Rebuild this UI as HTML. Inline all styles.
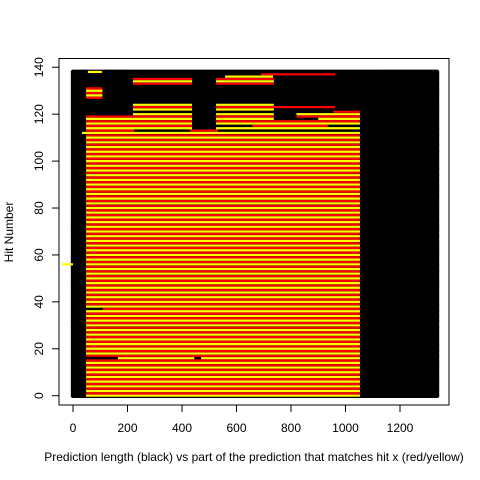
<!DOCTYPE html>
<html><head><meta charset="utf-8"><style>
html,body{margin:0;padding:0;background:#fff;}
svg{display:block;font-family:"Liberation Sans",sans-serif;}
</style></head><body>
<svg id="chart" width="480" height="480" viewBox="0 0 480 480">
<rect x="0" y="0" width="480" height="480" fill="#fff"/>
<g id="black"></g>
<g id="match"></g>
<rect x="59" y="58.5" width="390" height="346.5" fill="none" stroke="#000" stroke-width="1"/>
<g id="axes"></g>
<text x="254" y="461" text-anchor="middle" font-size="12">Prediction length (black) vs part of the prediction that matches hit x (red/yellow)</text>
<text x="0" y="0" transform="translate(13,232) rotate(-90)" text-anchor="middle" font-size="12">Hit Number</text>
</svg>
<script>
const xTicks=[0,200,400,600,800,1000,1200];
const yTicks=[0,20,40,60,80,100,120,140];
const nHits=139;
const predLength=1336;
// match segments: [hit, start, end]
const segHits=[138,137,136,135,135,134,134,133,133,131,130,129,128,127,124,124,123,123,122,122,121,120,120,120,119,119,119,118,118,118,117,117,116,116,115,115,114,114,113,113,112,56,37,16,16];
const segStarts=[55,690,558,220,525,220,525,220,525,48,48,48,48,48,220,525,220,525,220,525,955,220,525,820,48,525,820,48,525,900,48,525,48,525,48,658,48,525,48,430,33,-40,110,165,470];
const segEnds=[106,962,734,437,737,437,737,437,737,108,108,108,108,108,437,737,437,962,437,737,1053,437,737,1053,437,737,1053,437,737,1053,437,1053,437,1053,437,935,437,1053,225,532,1053,0,1053,445,1053];
const fullFrom=0, fullTo=111, fullStart=48, fullEnd=1053;
const skipFull=[56,37,16];

const NS='http://www.w3.org/2000/svg';
const xs=v=>73+v*0.2725;
const ys=v=>395.7-v*2.346;
function ln(g,x1,y1,x2,y2,c,w,cap){
  const l=document.createElementNS(NS,'line');
  l.setAttribute('x1',x1);l.setAttribute('y1',y1);l.setAttribute('x2',x2);l.setAttribute('y2',y2);
  l.setAttribute('stroke',c);l.setAttribute('stroke-width',w);l.setAttribute('stroke-linecap',cap||'butt');
  g.appendChild(l);return l;
}
const gb=document.getElementById('black');
for(let h=0;h<nHits;h++){
  const l=ln(gb,xs(0),ys(h),xs(predLength),ys(h),'#000',4.6,'round');
  
  
}
const gm=document.getElementById('match');
const col=h=>h%2===0?'#ffff00':'#ff0000';
for(let h=fullFrom;h<=fullTo;h++){
  if(skipFull.includes(h))continue;
  const l=ln(gm,xs(fullStart),ys(h),xs(fullEnd),ys(h),col(h),2.2);
  
  
}
for(let i=0;i<segHits.length;i++){
  const h=segHits[i];
  const l=ln(gm,xs(segStarts[i]),ys(h),xs(segEnds[i]),ys(h),col(h),2.2);
  
  
}
{const l=ln(gm,xs(48),ys(56),xs(1053),ys(56),col(56),2.2);

}
const ga=document.getElementById('axes');
ln(ga,xs(0),405,xs(1200),405,'#000',1);
xTicks.forEach(v=>{
  ln(ga,xs(v),405,xs(v),412,'#000',1);
  const t=document.createElementNS(NS,'text');
  t.setAttribute('x',xs(v));t.setAttribute('y',432);t.setAttribute('text-anchor','middle');t.setAttribute('font-size','12');
  t.textContent=v;
  
  
  ga.appendChild(t);
});
ln(ga,59,ys(0),59,ys(140),'#000',1);
yTicks.forEach(v=>{
  ln(ga,52,ys(v),59,ys(v),'#000',1);
  const t=document.createElementNS(NS,'text');
  t.setAttribute('transform','translate(43,'+ys(v)+') rotate(-90)');
  t.setAttribute('text-anchor','middle');t.setAttribute('font-size','12');
  t.textContent=v;
  
  
  ga.appendChild(t);
});
</script>
</body></html>
